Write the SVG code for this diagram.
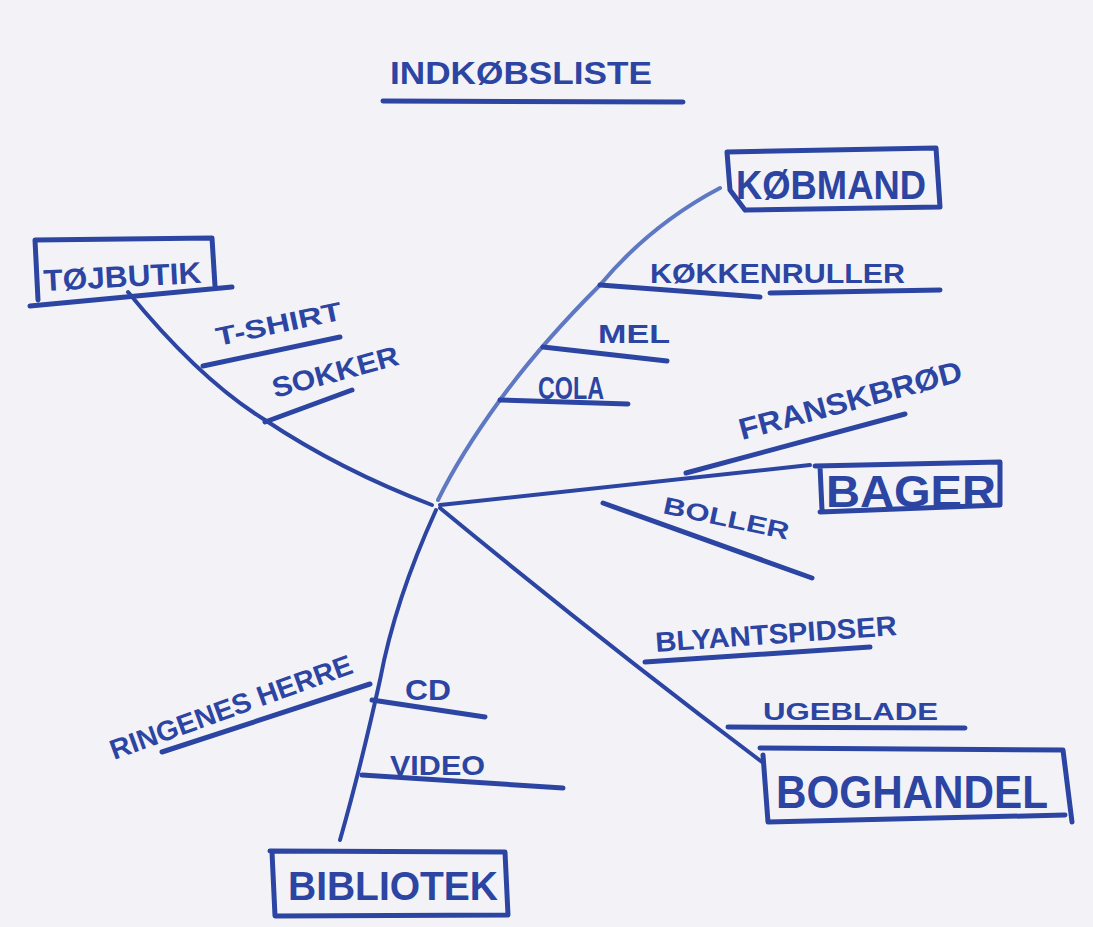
<svg xmlns="http://www.w3.org/2000/svg" width="1093" height="927" viewBox="0 0 1093 927">
<style>
.ink{fill:none;stroke:#2c45a2;stroke-width:5;stroke-linecap:round;stroke-linejoin:round}
.thin{stroke-width:4}
.light{stroke:#5f78c4}
text{font-family:"Liberation Sans","DejaVu Sans",sans-serif;font-weight:bold;fill:#2c45a2}
</style>
<rect width="1093" height="927" fill="#f3f3f7"/>
<g id="title">
<text x="390" y="84" font-size="32" textLength="262" lengthAdjust="spacingAndGlyphs">INDKØBSLISTE</text>
<path class="ink" d="M383 101 L683 102"/>
</g>
<g id="connectors">
<path class="ink thin" d="M128 292 Q200 380 265 420 Q340 470 432 505"/>
<path class="ink thin light" d="M720 188 Q650 225 600 285 Q540 345 500 400 Q460 455 438 500"/>
<path class="ink thin" d="M440 505 L810 465"/>
<path class="ink thin" d="M440 508 Q600 640 762 762"/>
<path class="ink thin" d="M436 510 Q395 600 380 680 Q360 770 340 840"/>
</g>
<g id="tojbutik">
<path class="ink" d="M35 240 L212 238 L215 286 M35 240 L38 300 M30 306 L232 287"/>
<text transform="translate(44,291) rotate(-3)" font-size="30" textLength="158" lengthAdjust="spacingAndGlyphs">TØJBUTIK</text>
</g>
<g id="tshirt">
<text transform="translate(218,346) rotate(-12)" font-size="26" textLength="128" lengthAdjust="spacingAndGlyphs">T-SHIRT</text>
<path class="ink" d="M203 366 L340 337"/>
</g>
<g id="sokker">
<text transform="translate(275,398) rotate(-15)" font-size="28" textLength="130" lengthAdjust="spacingAndGlyphs">SOKKER</text>
<path class="ink" d="M265 422 L352 390"/>
</g>
<g id="kobmand">
<path class="ink" d="M727 152 L936 148 L940 207 L745 210 M727 152 L730 190 L745 210"/>
<text x="736" y="199" font-size="40" textLength="190" lengthAdjust="spacingAndGlyphs">KØBMAND</text>
</g>
<g id="kokkenruller">
<text x="650" y="283" font-size="28" textLength="255" lengthAdjust="spacingAndGlyphs">KØKKENRULLER</text>
<path class="ink" d="M600 285 L760 297 M770 293 L940 290"/>
</g>
<g id="mel">
<text x="598" y="343" font-size="26" textLength="72" lengthAdjust="spacingAndGlyphs">MEL</text>
<path class="ink" d="M543 347 L667 361"/>
</g>
<g id="cola">
<text x="538" y="399" font-size="31" textLength="66" lengthAdjust="spacingAndGlyphs">COLA</text>
<path class="ink" d="M500 400 L628 404"/>
</g>
<g id="franskbrod">
<text transform="translate(742,440) rotate(-15)" font-size="30" textLength="230" lengthAdjust="spacingAndGlyphs">FRANSKBRØD</text>
<path class="ink" d="M686 473 L905 414"/>
</g>
<g id="bager">
<path class="ink" d="M815 466 L1000 462 L1000 505 L820 512 M820 466 L822 510"/>
<text x="826" y="507" font-size="44" textLength="170" lengthAdjust="spacingAndGlyphs">BAGER</text>
</g>
<g id="boller">
<text transform="translate(662,513) rotate(12)" font-size="24" textLength="128" lengthAdjust="spacingAndGlyphs">BOLLER</text>
<path class="ink" d="M603 503 L812 578"/>
</g>
<g id="blyantspidser">
<text transform="translate(656,652) rotate(-4)" font-size="28" textLength="242" lengthAdjust="spacingAndGlyphs">BLYANTSPIDSER</text>
<path class="ink" d="M645 662 L870 647"/>
</g>
<g id="ugeblade">
<text x="763" y="720" font-size="24" textLength="175" lengthAdjust="spacingAndGlyphs">UGEBLADE</text>
<path class="ink" d="M728 727 L965 728"/>
</g>
<g id="boghandel">
<path class="ink" d="M760 748 L1063 750 L1072 822 M763 755 L768 822 L1065 815"/>
<text x="776" y="808" font-size="46" textLength="272" lengthAdjust="spacingAndGlyphs">BOGHANDEL</text>
</g>
<g id="cd">
<text x="405" y="700" font-size="30" textLength="46" lengthAdjust="spacingAndGlyphs">CD</text>
<path class="ink" d="M372 700 L485 717"/>
</g>
<g id="video">
<text x="390" y="775" font-size="28" textLength="95" lengthAdjust="spacingAndGlyphs">VIDEO</text>
<path class="ink" d="M362 775 L563 788"/>
</g>
<g id="ringenes-herre">
<text transform="translate(114,760) rotate(-20)" font-size="28" textLength="256" lengthAdjust="spacingAndGlyphs">RINGENES HERRE</text>
<path class="ink" d="M162 752 L370 684"/>
</g>
<g id="bibliotek">
<path class="ink" d="M270 851 L505 852 L508 915 M272 852 L275 916 L508 915"/>
<text x="288" y="900" font-size="40" textLength="210" lengthAdjust="spacingAndGlyphs">BIBLIOTEK</text>
</g>
</svg>
